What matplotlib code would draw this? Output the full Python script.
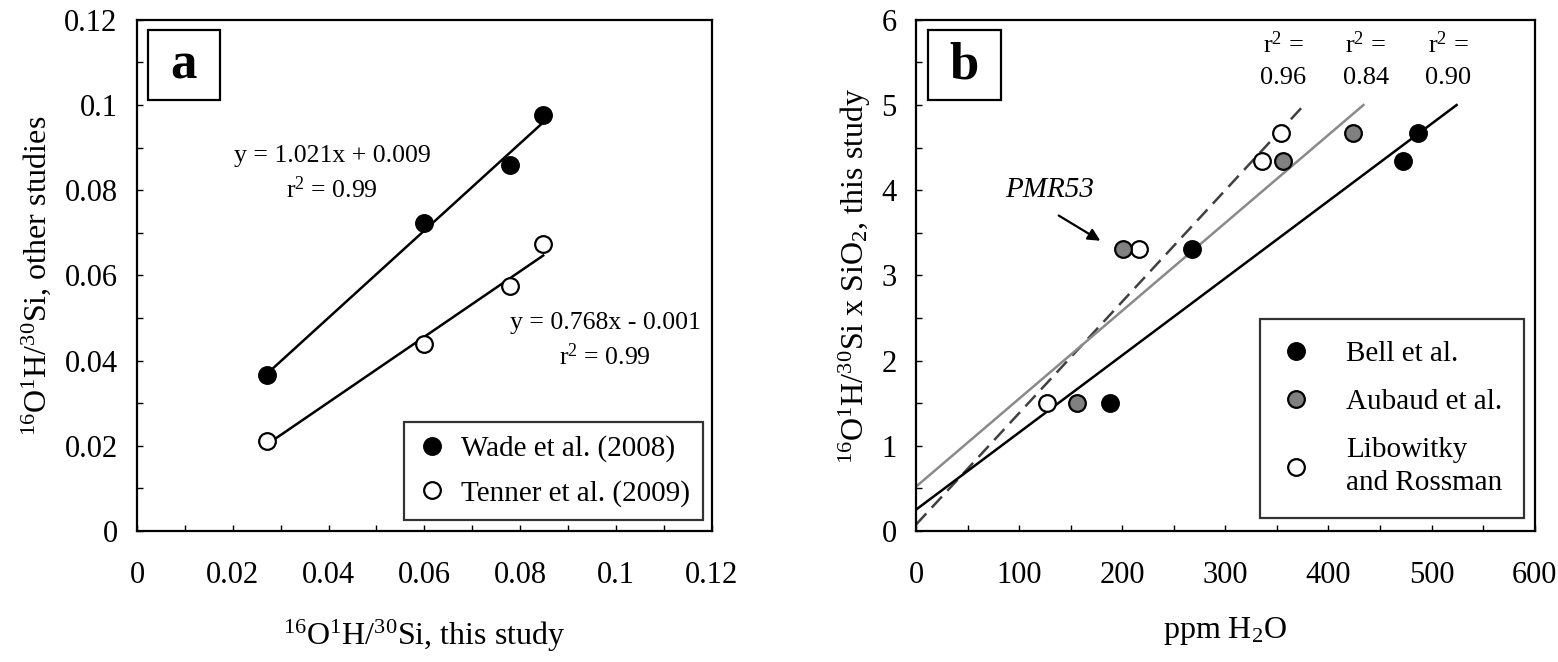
import numpy as np
import matplotlib
matplotlib.use("Agg")
from matplotlib import pyplot as plt
from matplotlib.patches import Rectangle

plt.rcParams['font.family'] = ['Liberation Serif', 'DejaVu Serif']
plt.rcParams['mathtext.fontset'] = 'custom'
plt.rcParams['mathtext.rm'] = 'Liberation Serif'
plt.rcParams['mathtext.it'] = 'Liberation Serif:italic'
plt.rcParams['mathtext.default'] = 'regular'

# panel a data
wade_x = [0.0271, 0.0600, 0.0779, 0.0848]
wade_y = [0.0365, 0.0722, 0.0859, 0.0976]
tenner_x = [0.0271, 0.0600, 0.0779, 0.0848]
tenner_y = [0.0212, 0.0440, 0.0574, 0.0673]

# panel b data
sio2_y = [1.50, 3.31, 4.34, 4.67]
bell_x = [188, 268, 472, 487]
aubaud_x = [156, 201, 356, 424]
libow_x = [127, 216, 336, 354]
r2_b = ['0.96', '0.84', '0.90']

fig = plt.figure(figsize=(15.58, 6.62), dpi=100)
ax1 = fig.add_axes([0.0879, 0.198, 0.369, 0.772])
ax2 = fig.add_axes([0.588, 0.198, 0.397, 0.772])

FS = 22
LFS = 23

def style(ax):
    for s in ax.spines.values():
        s.set_linewidth(1.6)
    ax.tick_params(which='both', direction='in', top=False, right=False,
                   width=1.0, length=4, labelsize=FS)
    ax.tick_params(axis='x', which='both', pad=22)
    ax.tick_params(axis='y', which='both', pad=14)

def panel_box(ax, letter):
    w = 0.125 if letter == 'a' else 0.118
    ax.add_patch(Rectangle((0.019, 0.843), w, 0.137,
                           transform=ax.transAxes, fill=False, lw=1.6,
                           edgecolor='black', zorder=5))
    ax.text(0.019 + w / 2, 0.911, letter,
            transform=ax.transAxes, ha='center', va='center',
            fontsize=38, fontweight='bold', zorder=6)

# ---- panel a ----
style(ax1)
ms = 12
for xs, ys, fc, lab in [(wade_x, wade_y, 'black', 'Wade et al. (2008)'),
                        (tenner_x, tenner_y, 'white', 'Tenner et al. (2009)')]:
    m, b = np.polyfit(xs, ys, 1)
    xx = np.array([min(xs), max(xs)])
    ax1.plot(xx, m * xx + b, color='black', lw=1.8, zorder=2)
    ax1.plot(xs, ys, 'o', ms=ms, mfc=fc, mec='black', mew=1.6, label=lab,
             zorder=3, ls='none')

ticks_a = np.arange(0, 0.121, 0.02)
ax1.set_xlim(0, 0.12)
ax1.set_ylim(0, 0.12)
ax1.set_xticks(ticks_a)
ax1.set_xticklabels(['0', '0.02', '0.04', '0.06', '0.08', '0.1', '0.12'])
ax1.set_yticks(ticks_a)
ax1.set_yticklabels(['0', '0.02', '0.04', '0.06', '0.08', '0.1', '0.12'])
ax1.set_xticks(np.arange(0, 0.121, 0.01), minor=True)
ax1.set_yticks(np.arange(0, 0.121, 0.01), minor=True)
ax1.set_xlabel(r'$^{16}$O$^{1}$H/$^{30}$Si, this study', fontsize=LFS, labelpad=20)
ax1.set_ylabel(r'$^{16}$O$^{1}$H/$^{30}$Si, other studies', fontsize=LFS, labelpad=8)

ax1.text(0.0408, 0.0880, 'y = 1.021x + 0.009', ha='center', va='center', fontsize=18.5)
ax1.text(0.0408, 0.0802, r'r$^{2}$ = 0.99', ha='center', va='center', fontsize=18.5)
ax1.text(0.0977, 0.0489, 'y = 0.768x - 0.001', ha='center', va='center', fontsize=18.5)
ax1.text(0.0977, 0.0409, r'r$^{2}$ = 0.99', ha='center', va='center', fontsize=18.5)

leg = ax1.legend(loc='lower right', bbox_to_anchor=(0.985, 0.022), fontsize=21,
                 frameon=True, fancybox=False, edgecolor='black',
                 handletextpad=0.5, borderpad=0.45, labelspacing=0.6,
                 handlelength=1.0, borderaxespad=0)
leg.get_frame().set_linewidth(1.6)
panel_box(ax1, 'a')

# ---- panel b ----
style(ax2)
groups = [(libow_x, 'white', 'Libowitky\nand Rossman', '#404040', (0, (6, 3.2)), 1.8),
          (aubaud_x, '#808080', 'Aubaud et al.', '#8a8a8a', '-', 1.8),
          (bell_x, 'black', 'Bell et al.', 'black', '-', 1.8)]
handles = {}
for xs, fc, lab, lc, ls, lw in groups:
    m, b = np.polyfit(xs, sio2_y, 1)
    xend = (5.0 - b) / m
    xx = np.array([0, xend])
    ax2.plot(xx, m * xx + b, color=lc, ls=ls, lw=lw, zorder=2)
for xs, fc, lab, lc, ls, lw in groups:
    h, = ax2.plot(xs, sio2_y, 'o', ms=ms, mfc=fc, mec='black', mew=1.6,
                  zorder=3, ls='none', label=lab)
    handles[lab] = h

ax2.set_xlim(0, 600)
ax2.set_ylim(0, 6)
ax2.set_xticks(np.arange(0, 601, 100))
ax2.set_yticks(np.arange(0, 7, 1))
ax2.set_xticks(np.arange(0, 601, 50), minor=True)
ax2.set_yticks(np.arange(0, 6.01, 0.5), minor=True)
ax2.set_xlabel(r'ppm H$_{2}$O', fontsize=LFS, labelpad=18)
ax2.set_ylabel(r'$^{16}$O$^{1}$H/$^{30}$Si x SiO$_{2}$, this study', fontsize=LFS, labelpad=6)

for xr, val in zip([356, 436, 516], r2_b):
    ax2.text(xr, 5.71, r'r$^{2}$ =', ha='center', va='center', fontsize=19)
    ax2.text(xr, 5.32, val, ha='center', va='center', fontsize=19)

ax2.text(130, 4.0, 'PMR53', ha='center', va='center', fontsize=21, style='italic')
ax2.annotate('', xy=(181, 3.39), xytext=(136, 3.72),
             arrowprops=dict(arrowstyle='-|>', color='black', lw=1.6,
                             mutation_scale=18))

order = ['Bell et al.', 'Aubaud et al.', 'Libowitky\nand Rossman']
leg2 = ax2.legend([handles[k] for k in order], order, loc='lower right',
                  bbox_to_anchor=(0.983, 0.025), fontsize=21, frameon=True,
                  fancybox=False, edgecolor='black', handletextpad=1.2,
                  borderpad=0.75, labelspacing=0.75, handlelength=1.0,
                  borderaxespad=0)
for t in leg2.get_texts():
    t.set_linespacing(1.35)
leg2.get_frame().set_linewidth(1.6)
panel_box(ax2, 'b')

fig.savefig('out.png', dpi=100)
